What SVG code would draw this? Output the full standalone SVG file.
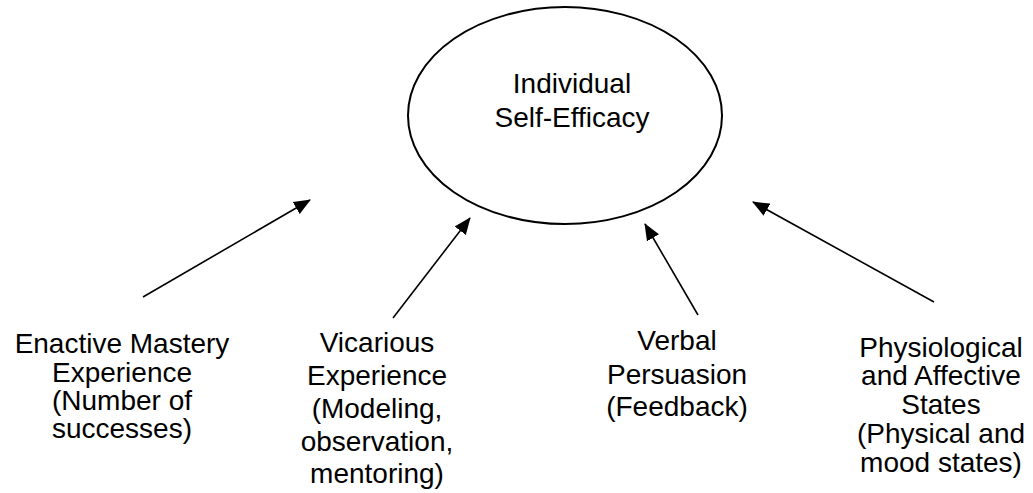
<svg xmlns="http://www.w3.org/2000/svg" width="1033" height="493" viewBox="0 0 1033 493">
<style>
text{font-family:"Liberation Sans",Arial,sans-serif;font-size:28px;fill:#000;text-anchor:middle}
.c{stroke:#000;stroke-width:1.6;fill:none}
</style>
<defs>
<marker id="ah" markerUnits="userSpaceOnUse" markerWidth="18" markerHeight="14" refX="16" refY="7" orient="auto">
<path d="M0,0 L17,7 L0,14 Z" fill="#000"/>
</marker>
</defs>
<rect width="1033" height="493" fill="#fff"/>
<g id="center">
<ellipse cx="565" cy="115.5" rx="157" ry="108.5" fill="#fff" stroke="#000" stroke-width="2"/>
<text x="572" y="93">Individual</text>
<text x="572" y="127">Self-Efficacy</text>
</g>
<g id="enactive">
<text x="122" y="353">Enactive Mastery</text>
<text x="122" y="382">Experience</text>
<text x="122" y="410">(Number of</text>
<text x="122" y="438">successes)</text>
</g>
<g id="vicarious">
<text x="377" y="352">Vicarious</text>
<text x="377" y="385">Experience</text>
<text x="377" y="418">(Modeling,</text>
<text x="377" y="451">observation,</text>
<text x="377" y="483">mentoring)</text>
</g>
<g id="verbal">
<text x="677" y="350">Verbal</text>
<text x="677" y="384">Persuasion</text>
<text x="677" y="416">(Feedback)</text>
</g>
<g id="physio">
<text x="941" y="357">Physiological</text>
<text x="941" y="385">and Affective</text>
<text x="941" y="414">States</text>
<text x="941" y="443">(Physical and</text>
<text x="941" y="472">mood states)</text>
</g>
<g id="connectors">
<line class="c" x1="143" y1="297" x2="310" y2="200" marker-end="url(#ah)"/>
<line class="c" x1="393" y1="318" x2="470" y2="218" marker-end="url(#ah)"/>
<line class="c" x1="698" y1="315" x2="645" y2="224" marker-end="url(#ah)"/>
<line class="c" x1="934" y1="302" x2="753" y2="202" marker-end="url(#ah)"/>
</g>
</svg>
